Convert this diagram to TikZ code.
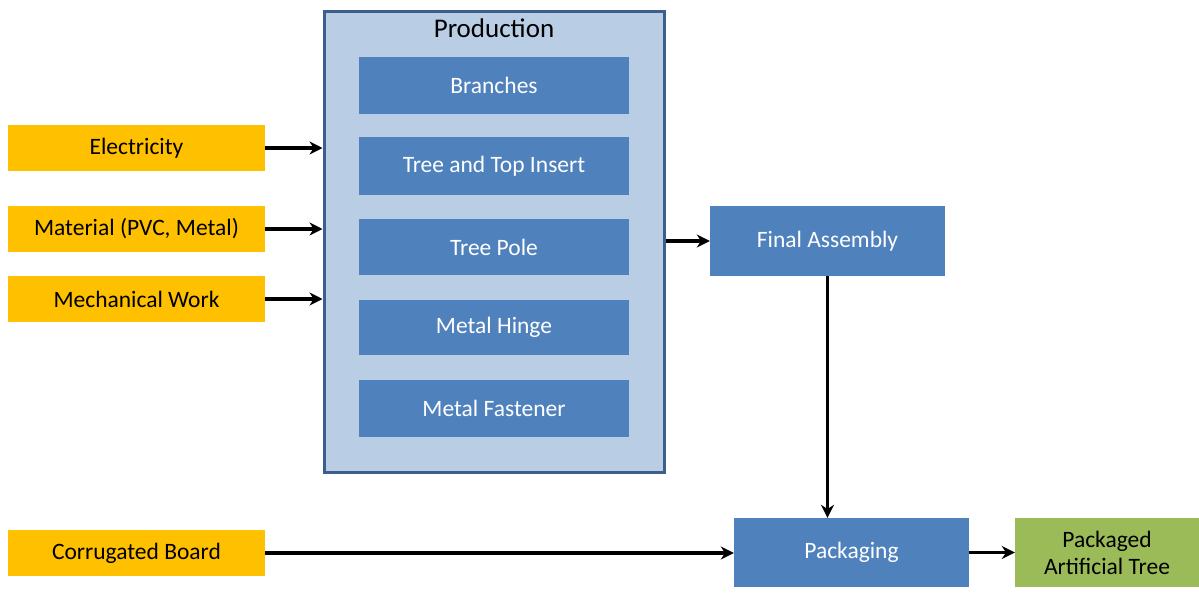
\documentclass[tikz,border=0pt]{standalone}
\usepackage{fontspec}
\setmainfont{Carlito}
\usetikzlibrary{arrows.meta}
\definecolor{inblue}{HTML}{4F81BD}
\definecolor{prodfill}{HTML}{B9CDE5}
\definecolor{prodline}{HTML}{3B5E8C}
\definecolor{inorange}{HTML}{FFC000}
\definecolor{outgreen}{HTML}{9BBB59}
\tikzset{
  txt/.style={font=\fontsize{23.5}{27}\selectfont},
  inputbox/.style={txt, fill=inorange, text=black, minimum width=257pt, minimum height=46pt, inner sep=0pt},
  partbox/.style={txt, fill=inblue, text=white, minimum width=270pt, inner sep=0pt},
  procbox/.style={txt, fill=inblue, text=white, minimum width=235pt, inner sep=0pt},
  outbox/.style={txt, fill=outgreen, text=black, minimum width=184pt, minimum height=69pt, inner sep=0pt, align=center},
  flow/.style={line width=3.2pt, -{Stealth[length=13pt,width=13pt]}}
}
\begin{document}
\begin{tikzpicture}[x=1pt,y=-1pt]
\useasboundingbox (0,0) rectangle (1199,592);
\node[draw=prodline, line width=3pt, fill=prodfill, minimum width=340pt, minimum height=461pt, inner sep=0pt] (prod) at (494,241.5) {};
\node[font=\fontsize{27}{30}\selectfont] (prodtitle) at (494,28) {Production};
\node[partbox, minimum height=57pt] (branches) at (494,85.5) {Branches};
\node[partbox, minimum height=58pt] (topinsert) at (494,166) {Tree and Top Insert};
\node[partbox, minimum height=56pt] (pole) at (494,247) {Tree Pole};
\node[partbox, minimum height=55pt] (hinge) at (494,327.5) {Metal Hinge};
\node[partbox, minimum height=57pt] (fastener) at (494,408.5) {Metal Fastener};

\node[inputbox] (elec) at (136.5,148) {Electricity};
\node[inputbox] (mat) at (136.5,229) {Material (PVC, Metal)};
\node[inputbox] (mech) at (136.5,299) {Mechanical Work};
\node[inputbox] (corr) at (136.5,553) {Corrugated Board};

\node[procbox, minimum height=70pt] (final) at (827.5,241) {Final Assembly};
\node[procbox, minimum height=69pt] (pack) at (851.5,552.5) {Packaging};
\node[outbox] (tree) at (1107,552.5) {Packaged\\Artificial Tree};

\draw[flow] (elec.east) -- (elec.east -| prod.west);
\draw[flow] (mat.east) -- (mat.east -| prod.west);
\draw[flow] (mech.east) -- (mech.east -| prod.west);
\draw[flow] (final.west -| prod.east) -- (final.west);
\draw[flow] (final.south) -- (final.south |- pack.north);
\draw[flow] (corr.east) -- (corr.east -| pack.west);
\draw[flow] (pack.east) -- (tree.west);
\end{tikzpicture}
\end{document}
